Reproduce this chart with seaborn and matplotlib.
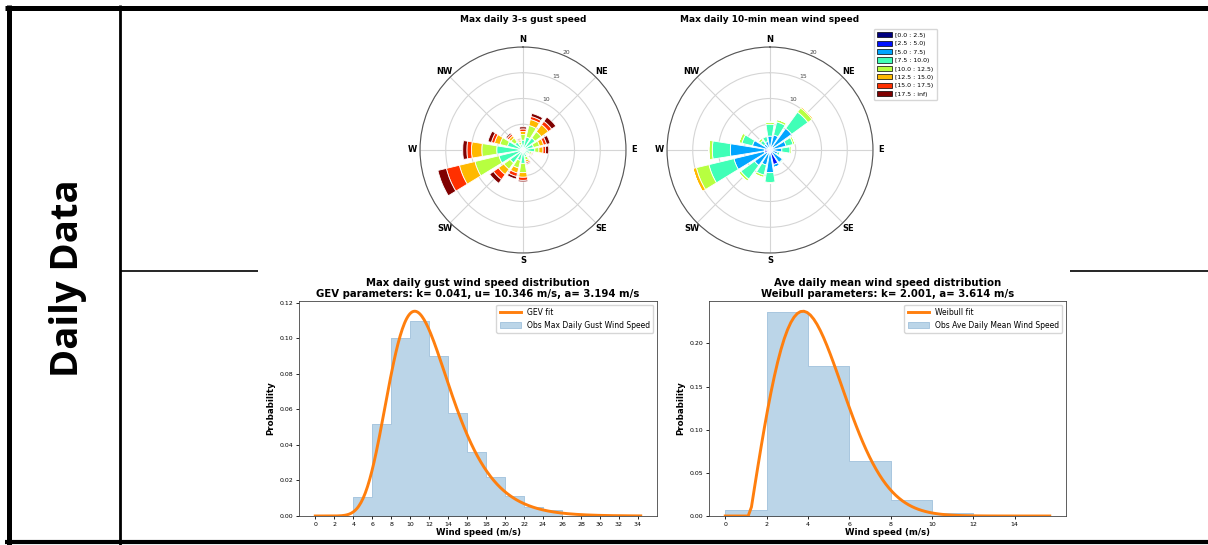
import numpy as np
import pandas as pd
import matplotlib
matplotlib.use("Agg")
import matplotlib.pyplot as plt
import seaborn as sns
from matplotlib.patches import Patch

# ---- wind roses: frequency (%) per direction, one row per speed bin ----
directions = ["N", "NNE", "NE", "ENE", "E", "ESE", "SE", "SSE",
              "S", "SSW", "SW", "WSW", "W", "WNW", "NW", "NNW"]
speed_bins = ["[0.0 : 2.5)", "[2.5 : 5.0)", "[5.0 : 7.5)", "[7.5 : 10.0)",
              "[10.0 : 12.5)", "[12.5 : 15.0)", "[15.0 : 17.5)", "[17.5 : inf)"]

gust_rose = [
    [0.0, 0.0, 0.0, 0.0, 0.0, 0.0, 0.0, 0.0, 0.0, 0.0, 0.0, 0.0, 0.0, 0.0, 0.0, 0.0],
    [0.1, 0.1, 0.1, 0.1, 0.1, 0.0, 0.0, 0.1, 0.1, 0.1, 0.1, 0.1, 0.1, 0.1, 0.1, 0.0],
    [0.3, 0.3, 0.3, 0.3, 0.3, 0.3, 0.2, 0.3, 0.3, 0.3, 0.3, 0.4, 0.4, 0.3, 0.3, 0.2],
    [1.5, 2.2, 2.5, 1.7, 1.9, 1.0, 0.7, 1.0, 2.2, 1.7, 2.7, 4.3, 4.6, 2.7, 1.5, 0.9],
    [1.1, 2.3, 1.5, 1.2, 0.8, 0.4, 0.3, 0.6, 1.8, 1.5, 1.5, 4.8, 2.9, 1.5, 1.0, 0.5],
    [0.6, 1.2, 1.7, 0.8, 0.8, 0.2, 0.1, 0.4, 0.9, 1.0, 1.3, 3.1, 2.0, 1.1, 0.5, 0.3],
    [0.5, 0.6, 0.8, 0.6, 0.5, 0.2, 0.1, 0.3, 0.6, 0.7, 1.2, 2.6, 0.9, 0.6, 0.4, 0.2],
    [0.4, 0.6, 1.0, 0.7, 0.6, 0.1, 0.1, 0.2, 0.3, 0.5, 0.9, 1.7, 0.8, 0.7, 0.3, 0.2],
]

mean_rose = [
    [0.1, 0.1, 0.1, 0.1, 0.1, 0.1, 0.1, 0.3, 0.1, 0.1, 0.1, 0.2, 0.3, 0.1, 0.1, 0.1],
    [0.4, 0.5, 0.6, 0.5, 0.4, 0.4, 0.4, 2.6, 0.5, 0.5, 0.6, 1.0, 0.8, 0.5, 0.3, 0.4],
    [2.2, 2.4, 4.5, 2.6, 1.8, 1.0, 2.5, 0.6, 3.8, 2.4, 3.0, 6.0, 6.6, 2.9, 1.0, 1.2],
    [2.3, 2.6, 3.9, 1.4, 1.6, 0.5, 0.3, 0.0, 1.9, 2.0, 3.3, 5.0, 3.5, 2.1, 0.9, 1.0],
    [0.4, 0.5, 1.0, 0.4, 0.3, 0.1, 0.0, 0.0, 0.2, 0.5, 0.5, 2.5, 0.7, 0.6, 0.5, 0.2],
    [0.0, 0.0, 0.3, 0.0, 0.0, 0.0, 0.0, 0.0, 0.0, 0.0, 0.0, 0.7, 0.0, 0.0, 0.0, 0.0],
    [0.0, 0.0, 0.0, 0.0, 0.0, 0.0, 0.0, 0.0, 0.0, 0.0, 0.0, 0.0, 0.0, 0.0, 0.0, 0.0],
    [0.0, 0.0, 0.0, 0.0, 0.0, 0.0, 0.0, 0.0, 0.0, 0.0, 0.0, 0.0, 0.0, 0.0, 0.0, 0.0],
]

# ---- histograms (probability density per 2 m/s bin) ----
gust_edges = [4, 6, 8, 10, 12, 14, 16, 18, 20, 22, 24, 26]
gust_prob = [0.0105, 0.052, 0.100, 0.110, 0.090, 0.058, 0.036, 0.022, 0.011, 0.005, 0.0033]
mean_edges = [0, 2, 4, 6, 8, 10, 12]
mean_prob = [0.0065, 0.236, 0.174, 0.064, 0.018, 0.003]

# fitted distributions (parameters from the titles)
gev_k, gev_u, gev_a = 0.041, 10.346, 3.194
wbl_k, wbl_a, wbl_loc = 2.001, 3.614, 1.2
gust_xmax = 34.3
mean_xmax = 15.7

gx = np.linspace(0, gust_xmax, 300)
t = 1 - gev_k * (gx - gev_u) / gev_a
gev_pdf = np.exp(-t ** (1 / gev_k)) * t ** (1 / gev_k - 1) / gev_a

mx = np.linspace(0, mean_xmax, 100)
z = np.clip((mx - wbl_loc) / wbl_a, 0, None)
wbl_pdf = wbl_k / wbl_a * z ** (wbl_k - 1) * np.exp(-z ** wbl_k)

# ---- figure ----
W, H = 1208, 545
fig = plt.figure(figsize=(W / 100, H / 100), dpi=100)


def box(x0, y0, x1, y1):
    return [x0 / W, 1 - y1 / H, (x1 - x0) / W, (y1 - y0) / H]


bg = fig.add_axes([0, 0, 1, 1])
bg.set_xlim(0, W)
bg.set_ylim(H, 0)
bg.axis("off")
kw = dict(color="black", solid_capstyle="butt")
bg.plot([5, W], [7.5, 7.5], lw=3.6, **kw)
bg.plot([5, W], [542, 542], lw=3.0, **kw)
bg.plot([9, 9], [5, 545], lw=3.6, **kw)
bg.plot([120, 120], [5, 545], lw=2.0, **kw)
bg.plot([120, 258], [270.5, 270.5], lw=1.2, **kw)
bg.plot([1070, W], [270.5, 270.5], lw=1.2, **kw)
bg.text(68, 278, "Daily Data", rotation=90, ha="center", va="center",
        fontsize=27.5, fontweight="bold", family=["Open Sans", "DejaVu Sans"])

jet = plt.get_cmap("jet")
bin_colors = [jet(v) for v in np.linspace(0, 1, len(speed_bins))]


def wind_rose(ax, rows, title):
    theta = np.deg2rad(np.arange(len(directions)) * 22.5)
    width = np.deg2rad(22.5) * 0.8
    bottom = np.zeros(len(directions))
    for row, color in zip(rows, bin_colors):
        vals = np.array(row)
        ax.bar(theta, vals, width=width, bottom=bottom, color=color,
               edgecolor="white", linewidth=0.6, zorder=2)
        bottom += vals
    ax.set_theta_zero_location("N")
    ax.set_theta_direction(-1)
    ax.set_xticks(np.deg2rad(np.arange(0, 360, 45)))
    ax.set_xticklabels(["N", "NE", "E", "SE", "S", "SW", "W", "NW"],
                       fontsize=6, fontweight="bold")
    ax.set_ylim(0, 20)
    ax.set_yticks([5, 10, 15, 20])
    ax.set_yticklabels(["5", "10", "15", "20"], fontsize=4.3, color="#444444")
    ax.set_rlabel_position(22.5)
    ax.tick_params(axis="x", pad=-5)
    ax.grid(color="#d5d5d5", linewidth=0.8)
    ax.spines["polar"].set_color("#555555")
    ax.spines["polar"].set_linewidth(0.8)
    ax.set_title(title, fontsize=6.5, fontweight="bold", pad=9)


ax1 = fig.add_axes(box(420, 47, 626, 253), projection="polar")
wind_rose(ax1, gust_rose, "Max daily 3-s gust speed")
ax2 = fig.add_axes(box(667, 47, 873, 253), projection="polar")
wind_rose(ax2, mean_rose, "Max daily 10-min mean wind speed")

handles = [Patch(facecolor=c, edgecolor="black", linewidth=0.5) for c in bin_colors]
fig.legend(handles, speed_bins, loc="upper left", bbox_to_anchor=(871 / W, 1 - 26 / H),
           fontsize=4.5, handlelength=2.3, handleheight=0.9, labelspacing=0.42,
           borderpad=0.5, handletextpad=0.6, framealpha=0.8)


def dist_panel(ax, edges, prob, cx, cy, fit_label, obs_label, title, yticks, xticks):
    centers = [(a + b) / 2 for a, b in zip(edges[:-1], edges[1:])]
    obs = pd.DataFrame({"speed": centers, "prob": prob})
    fit = pd.DataFrame({"speed": cx, "pdf": cy})
    sns.histplot(data=obs, x="speed", weights="prob", bins=list(edges), element="step",
                 fill=True, alpha=0.3, color="tab:blue", edgecolor="#a8c6df",
                 linewidth=0.7, ax=ax, label=obs_label)
    sns.lineplot(data=fit, x="speed", y="pdf", color="tab:orange", linewidth=2.1, ax=ax,
                 label=fit_label)
    for coll in ax.collections:
        coll.sticky_edges.x.clear()
    h, l = ax.get_legend_handles_labels()
    order = [l.index(fit_label), l.index(obs_label)]
    ax.legend([h[i] for i in order], [l[i] for i in order], loc="upper right",
              fontsize=5.5, handlelength=2.8)
    ax.set_title(title, fontsize=7.3, fontweight="bold", pad=3, linespacing=1.05)
    ax.set_xlabel("Wind speed (m/s)", fontsize=6.2, fontweight="bold", labelpad=1)
    ax.set_ylabel("Probability", fontsize=6.2, fontweight="bold", labelpad=3)
    ax.set_xticks(xticks)
    ax.set_yticks(yticks)
    ax.set_yticklabels([f"{v:.2f}" for v in yticks])
    ax.tick_params(labelsize=4.5, length=2.5, width=0.6, pad=1.5)
    for s in ax.spines.values():
        s.set_linewidth(0.6)
        s.set_color("#444444")


ax3 = fig.add_axes(box(299, 301, 657, 516))
dist_panel(ax3, gust_edges, gust_prob, gx, gev_pdf, "GEV fit", "Obs Max Daily Gust Wind Speed",
           "Max daily gust wind speed distribution\n"
           "GEV parameters: k= 0.041, u= 10.346 m/s, a= 3.194 m/s",
           [0.0, 0.02, 0.04, 0.06, 0.08, 0.10, 0.12], np.arange(0, 35, 2))

ax4 = fig.add_axes(box(709, 301, 1066, 516))
dist_panel(ax4, mean_edges, mean_prob, mx, wbl_pdf, "Weibull fit", "Obs Ave Daily Mean Wind Speed",
           "Ave daily mean wind speed distribution\n"
           "Weibull parameters: k= 2.001, a= 3.614 m/s",
           [0.0, 0.05, 0.10, 0.15, 0.20], np.arange(0, 16, 2))

fig.savefig("out.png", dpi=100, facecolor="white")
